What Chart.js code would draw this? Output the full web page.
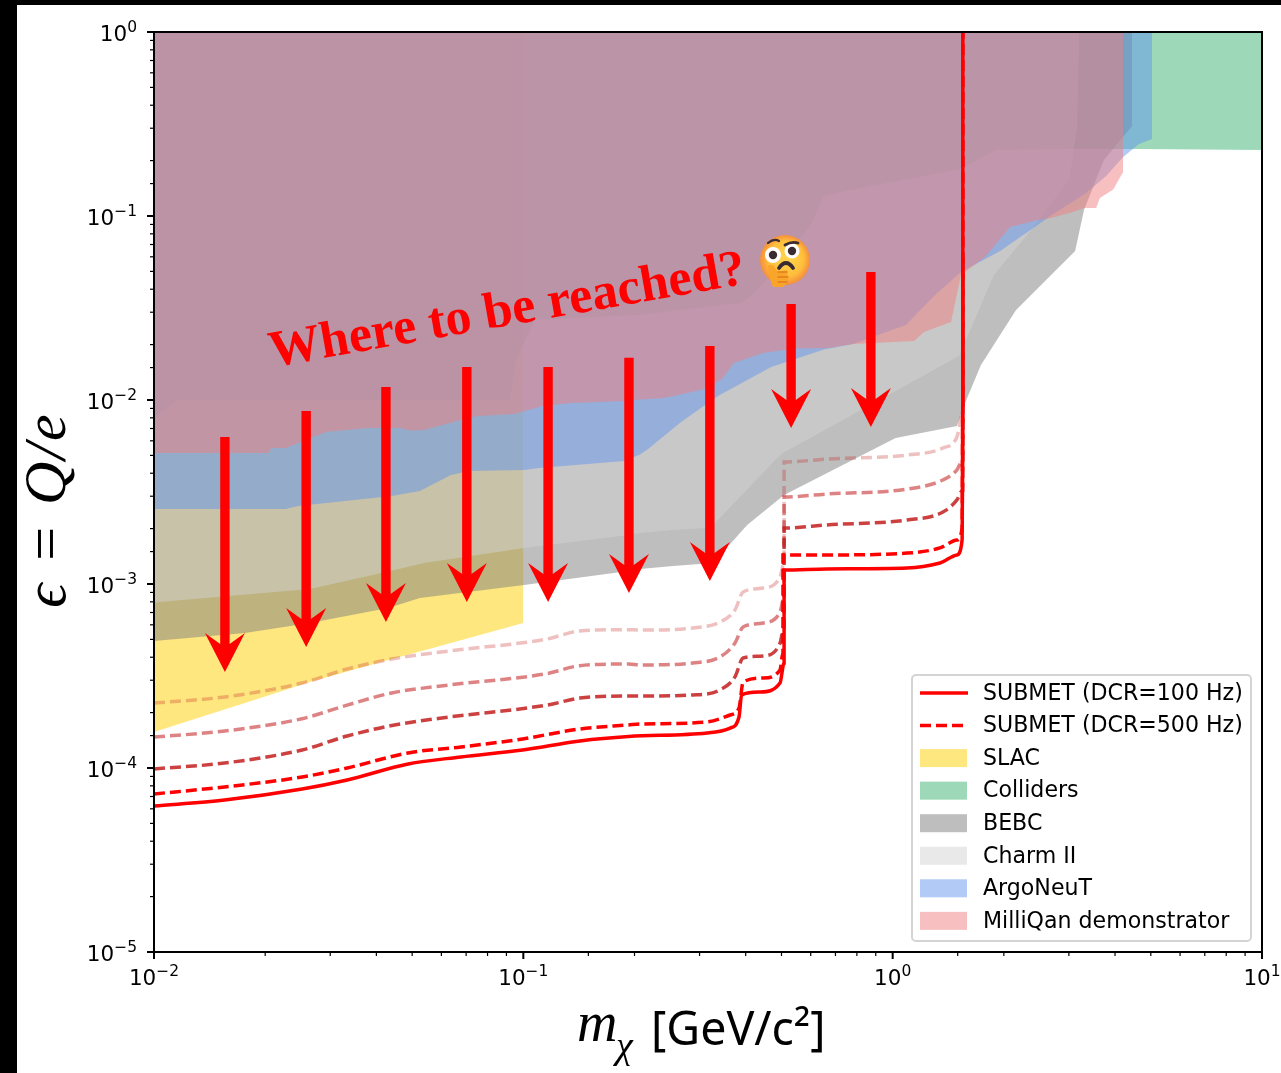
<!DOCTYPE html>
<html>
<head>
<meta charset="utf-8">
<title>SUBMET reach</title>
<script src="https://cdn.jsdelivr.net/npm/chart.js@4"></script>
<style>
  html, body { margin: 0; padding: 0; background: #000; width: 1281px; height: 1073px; overflow: hidden; }
  #paper { position: absolute; left: 17px; top: 5px; width: 1264px; height: 1068px; background: #fff; }
  #chart { position: absolute; left: 0; top: 0; }
</style>
</head>
<body>
<div id="paper"></div>
<canvas id="chart" width="1281" height="1073"></canvas>
<script>
// all values are log10 of the axis value
const tickBase = '10';
const xTicks = ['−2', '−1', '0', '1'];
const yTicks = ['−5', '−4', '−3', '−2', '−1', '0'];

const slacX = [-2, -1.754, -1.578, -1.366, -1.255, -1];
const slacY = [-3.804, -3.647, -3.533, -3.413, -3.353, -3.212];

const collidersX = [-2, -1.936, -1.036, -1.02, -0.968, -0.684, -0.408, -0.363, -0.224, -0.186, -0.097, 0.047, 0.185, 0.28, 0.488, 0.667, 1];
const collidersY = [-2.098, -2.003, -2.003, -1.788, -1.565, -1.538, -1.473, -1.397, -1.06, -0.891, -0.853, -0.799, -0.745, -0.641, -0.636, -0.636, -0.641];

const bebcX = [-2, -1.754, -1.578, -1.366, -1.28, -0.998, -0.715, -0.684, -0.595, -0.486, -0.394, -0.294, 0.008, 0.174, 0.196, 0.239, 0.334, 0.494, 0.518, 0.572, 0.648];
const bebcY = [-3.31, -3.266, -3.212, -3.13, -3.076, -3.005, -2.929, -2.918, -2.902, -2.886, -2.679, -2.516, -2.207, -2.141, -2.016, -1.81, -1.511, -1.19, -0.967, -0.696, -0.511];

const charmX = [-2, -1.578, -1.366, -1.269, -0.998, -0.715, -0.684, -0.595, -0.508, -0.486, -0.31, -0.297, 0.18, 0.274, 0.377, 0.478, 0.499, 0.505];
const charmY = [-3.101, -3.027, -2.932, -2.886, -2.804, -2.734, -2.723, -2.707, -2.696, -2.679, -2.31, -2.288, -1.761, -1.321, -1.071, -0.799, -0.516, -0.005];

const argoX = [-2, -1.643, -1.61, -1.356, -1.28, -1.196, -1.147, -0.998, -0.958, -0.727, -0.684, -0.662, -0.573, -0.473, -0.329, -0.186, -0.107, 0.036, 0.112, 0.185, 0.291, 0.377, 0.423, 0.524, 0.578, 0.624, 0.667, 0.702];
const argoY = [-2.592, -2.592, -2.576, -2.522, -2.495, -2.408, -2.386, -2.38, -2.37, -2.332, -2.296, -2.266, -2.12, -1.978, -1.821, -1.726, -1.696, -1.592, -1.435, -1.304, -1.19, -1.071, -1.005, -0.875, -0.783, -0.679, -0.609, -0.582];

const milliX = [-2, -1.689, -1.683, -1.643, -1.534, -1.423, -1.334, -1.307, -1.269, -1.169, -1.124, -1.025, -0.947, -0.871, -0.727, -0.684, -0.618, -0.508, -0.462, -0.43, -0.351, -0.264, -0.175, -0.107, 0.058, 0.085, 0.158, 0.185, 0.25, 0.318, 0.394, 0.429, 0.488, 0.518, 0.551, 0.561, 0.597, 0.624];
const milliY = [-2.288, -2.288, -2.261, -2.261, -2.174, -2.152, -2.152, -2.166, -2.163, -2.109, -2.087, -2.076, -2.033, -2.016, -2.005, -1.997, -1.989, -1.94, -1.886, -1.799, -1.745, -1.72, -1.717, -1.696, -1.679, -1.63, -1.576, -1.321, -1.223, -1.06, -1.022, -1.011, -0.978, -0.957, -0.957, -0.902, -0.856, -0.761];

const dcr100X = [-2, -1.809, -1.599, -1.477, -1.312, -1.169, -1.002, -0.847, -0.715, -0.503, -0.44, -0.416, -0.409, -0.359, -0.305, -0.294, -0.294, -0.178, 0.039, 0.128, 0.174, 0.188, 0.19, 0.19];
const dcr100Y = [-4.207, -4.174, -4.114, -4.065, -3.978, -3.94, -3.902, -3.853, -3.829, -3.81, -3.783, -3.723, -3.603, -3.587, -3.538, -3.429, -2.924, -2.918, -2.913, -2.886, -2.842, -2.761, -2, 0];

const dcr500X = [-2, -1.809, -1.599, -1.477, -1.312, -1.169, -1.002, -0.847, -0.715, -0.684, -0.503, -0.44, -0.416, -0.405, -0.351, -0.305, -0.297, -0.297, -0.178, 0.039, 0.128, 0.174, 0.188, 0.19, 0.19];
const dcr500Y = [-4.141, -4.103, -4.049, -4, -3.918, -3.886, -3.842, -3.788, -3.766, -3.761, -3.75, -3.712, -3.674, -3.533, -3.511, -3.467, -3.375, -2.842, -2.842, -2.832, -2.804, -2.761, -2.696, -2, 0];

const fadedX = [-2, -1.809, -1.599, -1.477, -1.356, -1.201, -0.936, -0.847, -0.715, -0.684, -0.541, -0.468, -0.427, -0.405, -0.351, -0.305, -0.294, -0.294, -0.178, 0.039, 0.136, 0.174, 0.19, 0.19];
const fadedDarkY = [-4.005, -3.973, -3.902, -3.826, -3.769, -3.723, -3.658, -3.62, -3.609, -3.609, -3.603, -3.576, -3.505, -3.402, -3.391, -3.321, -3.234, -2.696, -2.679, -2.652, -2.609, -2.543, -2.489, -1.228];
const fadedMidY = [-3.832, -3.799, -3.732, -3.658, -3.592, -3.549, -3.487, -3.444, -3.435, -3.44, -3.429, -3.397, -3.321, -3.234, -3.212, -3.152, -3.071, -2.527, -2.511, -2.484, -2.435, -2.38, -2.326, -1.228];
const fadedLightY = [-3.647, -3.614, -3.538, -3.462, -3.408, -3.364, -3.299, -3.255, -3.248, -3.25, -3.239, -3.207, -3.141, -3.043, -3.022, -2.962, -2.886, -2.337, -2.321, -2.299, -2.261, -2.201, -2.071, -1.228];

// arrows: where each one sits, starts and points to
const arrowX = [-1.808, -1.588, -1.372, -1.153, -0.933, -0.714, -0.495, -0.275, -0.059];
const arrowTopY = [-2.201, -2.06, -1.93, -1.821, -1.821, -1.77, -1.707, -1.478, -1.304];
const arrowTipY = [-3.478, -3.342, -3.207, -3.098, -3.098, -3.049, -2.984, -2.152, -2.147];

const wonderText = 'Where to be reached?';
const emojiAt = [-0.2915, -1.239];

function pts(xs, ys) {
  return xs.map((x, i) => ({ x: Math.pow(10, x), y: Math.pow(10, ys[i]) }));
}

function area(label, xs, ys, color, order) {
  return {
    label, data: pts(xs, ys), showLine: true, order,
    borderWidth: 0, pointRadius: 0, tension: 0,
    backgroundColor: color,
    fill: { target: { value: 1 } }
  };
}

function curve(label, xs, ys, color, dash, order) {
  return {
    label, data: pts(xs, ys), showLine: true, order,
    borderColor: color, borderWidth: 3.5, borderDash: dash,
    pointRadius: 0, fill: false,
    cubicInterpolationMode: 'monotone'
  };
}

const datasets = [
  curve('SUBMET (DCR=100 Hz)', dcr100X, dcr100Y, '#ff0000', [], 0),
  curve('SUBMET (DCR=500 Hz)', dcr500X, dcr500Y, '#ff0000', [11, 5], 1),
  area('SLAC', slacX, slacY, 'rgba(255,208,0,0.5)', 10),
  area('Colliders', collidersX, collidersY, 'rgba(60,179,113,0.5)', 9),
  area('BEBC', bebcX, bebcY, 'rgba(125,125,125,0.5)', 8),
  area('Charm II', charmX, charmY, 'rgba(211,211,211,0.5)', 7),
  area('ArgoNeuT', argoX, argoY, 'rgba(100,149,237,0.5)', 6),
  area('MilliQan demonstrator', milliX, milliY, 'rgba(240,128,128,0.5)', 5),
  curve('', fadedX, fadedDarkY, 'rgba(195,30,30,0.85)', [11, 5], 2),
  curve('', fadedX, fadedMidY, 'rgba(195,30,30,0.55)', [11, 5], 3),
  curve('', fadedX, fadedLightY, 'rgba(195,30,30,0.28)', [11, 5], 4)
];

function tickLabel(list, low) {
  return function (value) {
    const e = Math.log10(value);
    if (Math.abs(e - Math.round(e)) > 1e-6) return '';
    return list[Math.round(e) - low] || '';
  };
}

function drawArrow(ctx, x, top, tip) {
  ctx.fillStyle = '#ff0000';
  ctx.beginPath();
  ctx.moveTo(x, tip);
  ctx.lineTo(x + 20, tip - 39);
  ctx.lineTo(x + 4.7, tip - 28);
  ctx.lineTo(x + 4.7, top);
  ctx.lineTo(x - 4.7, top);
  ctx.lineTo(x - 4.7, tip - 28);
  ctx.lineTo(x - 20, tip - 39);
  ctx.closePath();
  ctx.fill();
}

function drawEmoji(ctx, cx, cy) {
  const r = 25;
  const head = ctx.createRadialGradient(cx + 3, cy - 4, 4, cx, cy, r);
  head.addColorStop(0, '#ffd24a');
  head.addColorStop(0.65, '#ffbe3c');
  head.addColorStop(1, '#f58f3c');
  ctx.fillStyle = head;
  ctx.beginPath();
  ctx.arc(cx, cy, r, 0, Math.PI * 2);
  ctx.fill();
  // eyes
  ctx.fillStyle = '#fff';
  ctx.beginPath();
  ctx.arc(cx - 12, cy - 5, 8, 0, Math.PI * 2);
  ctx.arc(cx + 7, cy - 9, 7.5, 0, Math.PI * 2);
  ctx.fill();
  ctx.fillStyle = '#3a2a32';
  ctx.beginPath();
  ctx.arc(cx - 12, cy - 5, 4.2, 0, Math.PI * 2);
  ctx.arc(cx + 7, cy - 9, 4.2, 0, Math.PI * 2);
  ctx.fill();
  // brows and mouth
  ctx.strokeStyle = '#3a2a32';
  ctx.lineCap = 'round';
  ctx.lineWidth = 2.2;
  ctx.beginPath();
  ctx.moveTo(cx - 17, cy - 17);
  ctx.quadraticCurveTo(cx - 11, cy - 22, cx - 6, cy - 19);
  ctx.stroke();
  ctx.lineWidth = 2.8;
  ctx.beginPath();
  ctx.moveTo(cx, cy - 15);
  ctx.quadraticCurveTo(cx + 7, cy - 19, cx + 13, cy - 17);
  ctx.stroke();
  ctx.lineWidth = 3.8;
  ctx.beginPath();
  ctx.moveTo(cx - 6, cy + 8);
  ctx.quadraticCurveTo(cx + 1, cy - 2, cx + 8, cy + 8);
  ctx.stroke();
  // hand
  ctx.fillStyle = '#f8a52a';
  ctx.beginPath();
  ctx.moveTo(cx - 17, cy + 6);
  ctx.quadraticCurveTo(cx - 12, cy + 3, cx - 10, cy + 8);
  ctx.lineTo(cx - 7, cy + 12);
  ctx.lineTo(cx + 2, cy + 10);
  ctx.lineTo(cx + 3, cy + 22);
  ctx.lineTo(cx - 2, cy + 27);
  ctx.lineTo(cx - 12, cy + 27);
  ctx.quadraticCurveTo(cx - 16, cy + 18, cx - 17, cy + 6);
  ctx.closePath();
  ctx.fill();
  ctx.strokeStyle = '#e07e1c';
  ctx.lineWidth = 1.3;
  ctx.beginPath();
  ctx.moveTo(cx - 7, cy + 12);
  ctx.lineTo(cx + 2, cy + 12);
  ctx.moveTo(cx - 7, cy + 17);
  ctx.lineTo(cx + 3, cy + 17);
  ctx.moveTo(cx - 7, cy + 22);
  ctx.lineTo(cx + 2, cy + 22);
  ctx.stroke();
  ctx.lineCap = 'butt';
}

function drawLegend(ctx, chart) {
  const left = 912, top = 675, w = 339, h = 266;
  ctx.beginPath();
  ctx.roundRect(left, top, w, h, 4);
  ctx.fillStyle = 'rgba(255,255,255,0.8)';
  ctx.fill();
  ctx.strokeStyle = '#d4d4d4';
  ctx.lineWidth = 2;
  ctx.stroke();
  ctx.font = '22.1px "DejaVu Sans"';
  ctx.textAlign = 'left';
  ctx.textBaseline = 'middle';
  chart.data.datasets.filter(d => d.label).forEach((d, i) => {
    const y = 693 + i * 32.55;
    if (d.fill) {
      ctx.fillStyle = d.backgroundColor;
      ctx.fillRect(920, y - 9, 47, 18);
    } else {
      ctx.strokeStyle = d.borderColor;
      ctx.lineWidth = 3.5;
      ctx.setLineDash(d.borderDash);
      ctx.beginPath();
      ctx.moveTo(920, y);
      ctx.lineTo(968, y);
      ctx.stroke();
      ctx.setLineDash([]);
    }
    ctx.fillStyle = '#000';
    ctx.fillText(d.label, 983, y + 1);
  });
}

// "10" with a raised exponent, x is where the label starts
function drawPower(ctx, exp, x, baseline) {
  ctx.font = '21.5px "DejaVu Sans"';
  ctx.fillText(tickBase, x, baseline);
  const w = ctx.measureText(tickBase).width;
  ctx.font = '15.5px "DejaVu Sans"';
  ctx.fillText(exp, x + w, baseline - 9.5);
}

function powerWidth(ctx, exp) {
  ctx.font = '21.5px "DejaVu Sans"';
  const w = ctx.measureText(tickBase).width;
  ctx.font = '15.5px "DejaVu Sans"';
  return w + ctx.measureText(exp).width;
}

const overlay = {
  id: 'overlay',
  afterDraw(chart) {
    const ctx = chart.ctx;
    const { x: xs, y: ys } = chart.scales;
    const a = chart.chartArea;
    ctx.save();

    arrowX.forEach((x, i) => {
      drawArrow(ctx, xs.getPixelForValue(Math.pow(10, x)),
        ys.getPixelForValue(Math.pow(10, arrowTopY[i])),
        ys.getPixelForValue(Math.pow(10, arrowTipY[i])));
    });

    // spines, tick marks and tick labels
    ctx.strokeStyle = '#000';
    ctx.fillStyle = '#000';
    ctx.textAlign = 'left';
    ctx.textBaseline = 'alphabetic';
    ctx.lineWidth = 2;
    ctx.strokeRect(a.left, a.top, a.right - a.left, a.bottom - a.top);
    xs.ticks.forEach(t => {
      const p = xs.getPixelForValue(t.value);
      const big = t.label !== '';
      ctx.lineWidth = big ? 2 : 1.2;
      ctx.beginPath();
      ctx.moveTo(p, a.bottom);
      ctx.lineTo(p, a.bottom + (big ? 7 : 4));
      ctx.stroke();
      if (big) drawPower(ctx, t.label, p - powerWidth(ctx, t.label) / 2, 985);
    });
    ys.ticks.forEach(t => {
      const p = ys.getPixelForValue(t.value);
      const big = t.label !== '';
      ctx.lineWidth = big ? 2 : 1.2;
      ctx.beginPath();
      ctx.moveTo(a.left, p);
      ctx.lineTo(a.left - (big ? 7 : 4), p);
      ctx.stroke();
      if (big) drawPower(ctx, t.label, 137 - powerWidth(ctx, t.label), p + 9);
    });

    // rotated question and the face next to it
    ctx.save();
    ctx.translate(272, 367);
    ctx.rotate(-10 * Math.PI / 180);
    ctx.fillStyle = '#ff0000';
    ctx.font = 'bold 51.8px "Liberation Serif"';
    ctx.fillText(wonderText, 0, 0);
    ctx.restore();
    drawEmoji(ctx, xs.getPixelForValue(Math.pow(10, emojiAt[0])), ys.getPixelForValue(Math.pow(10, emojiAt[1])));

    drawLegend(ctx, chart);

    // axis titles
    ctx.fillStyle = '#000';
    ctx.textBaseline = 'alphabetic';
    ctx.textAlign = 'left';
    ctx.font = 'italic 56px "Liberation Serif"';
    ctx.fillText('m', 577, 1041);
    ctx.font = 'italic 38px "Liberation Serif"';
    ctx.fillText('χ', 616, 1058);
    ctx.font = '46.5px "Noto Sans"';
    ctx.fillText('[GeV/c²]', 651, 1045);

    ctx.save();
    ctx.translate(65, 510);
    ctx.rotate(-Math.PI / 2);
    ctx.textAlign = 'center';
    ctx.font = 'italic 60px "Liberation Serif"';
    ctx.letterSpacing = '2px';
    ctx.fillText('ϵ = Q/e', 0, 0);
    ctx.letterSpacing = '0px';
    ctx.restore();

    ctx.restore();
  }
};

new Chart(document.getElementById('chart'), {
  type: 'scatter',
  data: { datasets },
  plugins: [overlay],
  options: {
    responsive: false,
    animation: false,
    layout: { padding: { top: 32, right: 19, left: 0, bottom: 0 } },
    plugins: { legend: { display: false }, tooltip: { enabled: false } },
    scales: {
      x: {
        type: 'logarithmic', min: 0.01, max: 10,
        grid: { display: false }, border: { display: false },
        afterFit(s) { s.height = 121; s.paddingLeft = 0; s.paddingRight = 0; },
        ticks: { display: false, callback: tickLabel(xTicks, -2), autoSkip: false }
      },
      y: {
        type: 'logarithmic', min: 0.00001, max: 1,
        grid: { display: false }, border: { display: false },
        afterFit(s) { s.width = 154; s.paddingTop = 0; s.paddingBottom = 0; },
        ticks: { display: false, callback: tickLabel(yTicks, -5), autoSkip: false }
      }
    }
  }
});
</script>
</body>
</html>
